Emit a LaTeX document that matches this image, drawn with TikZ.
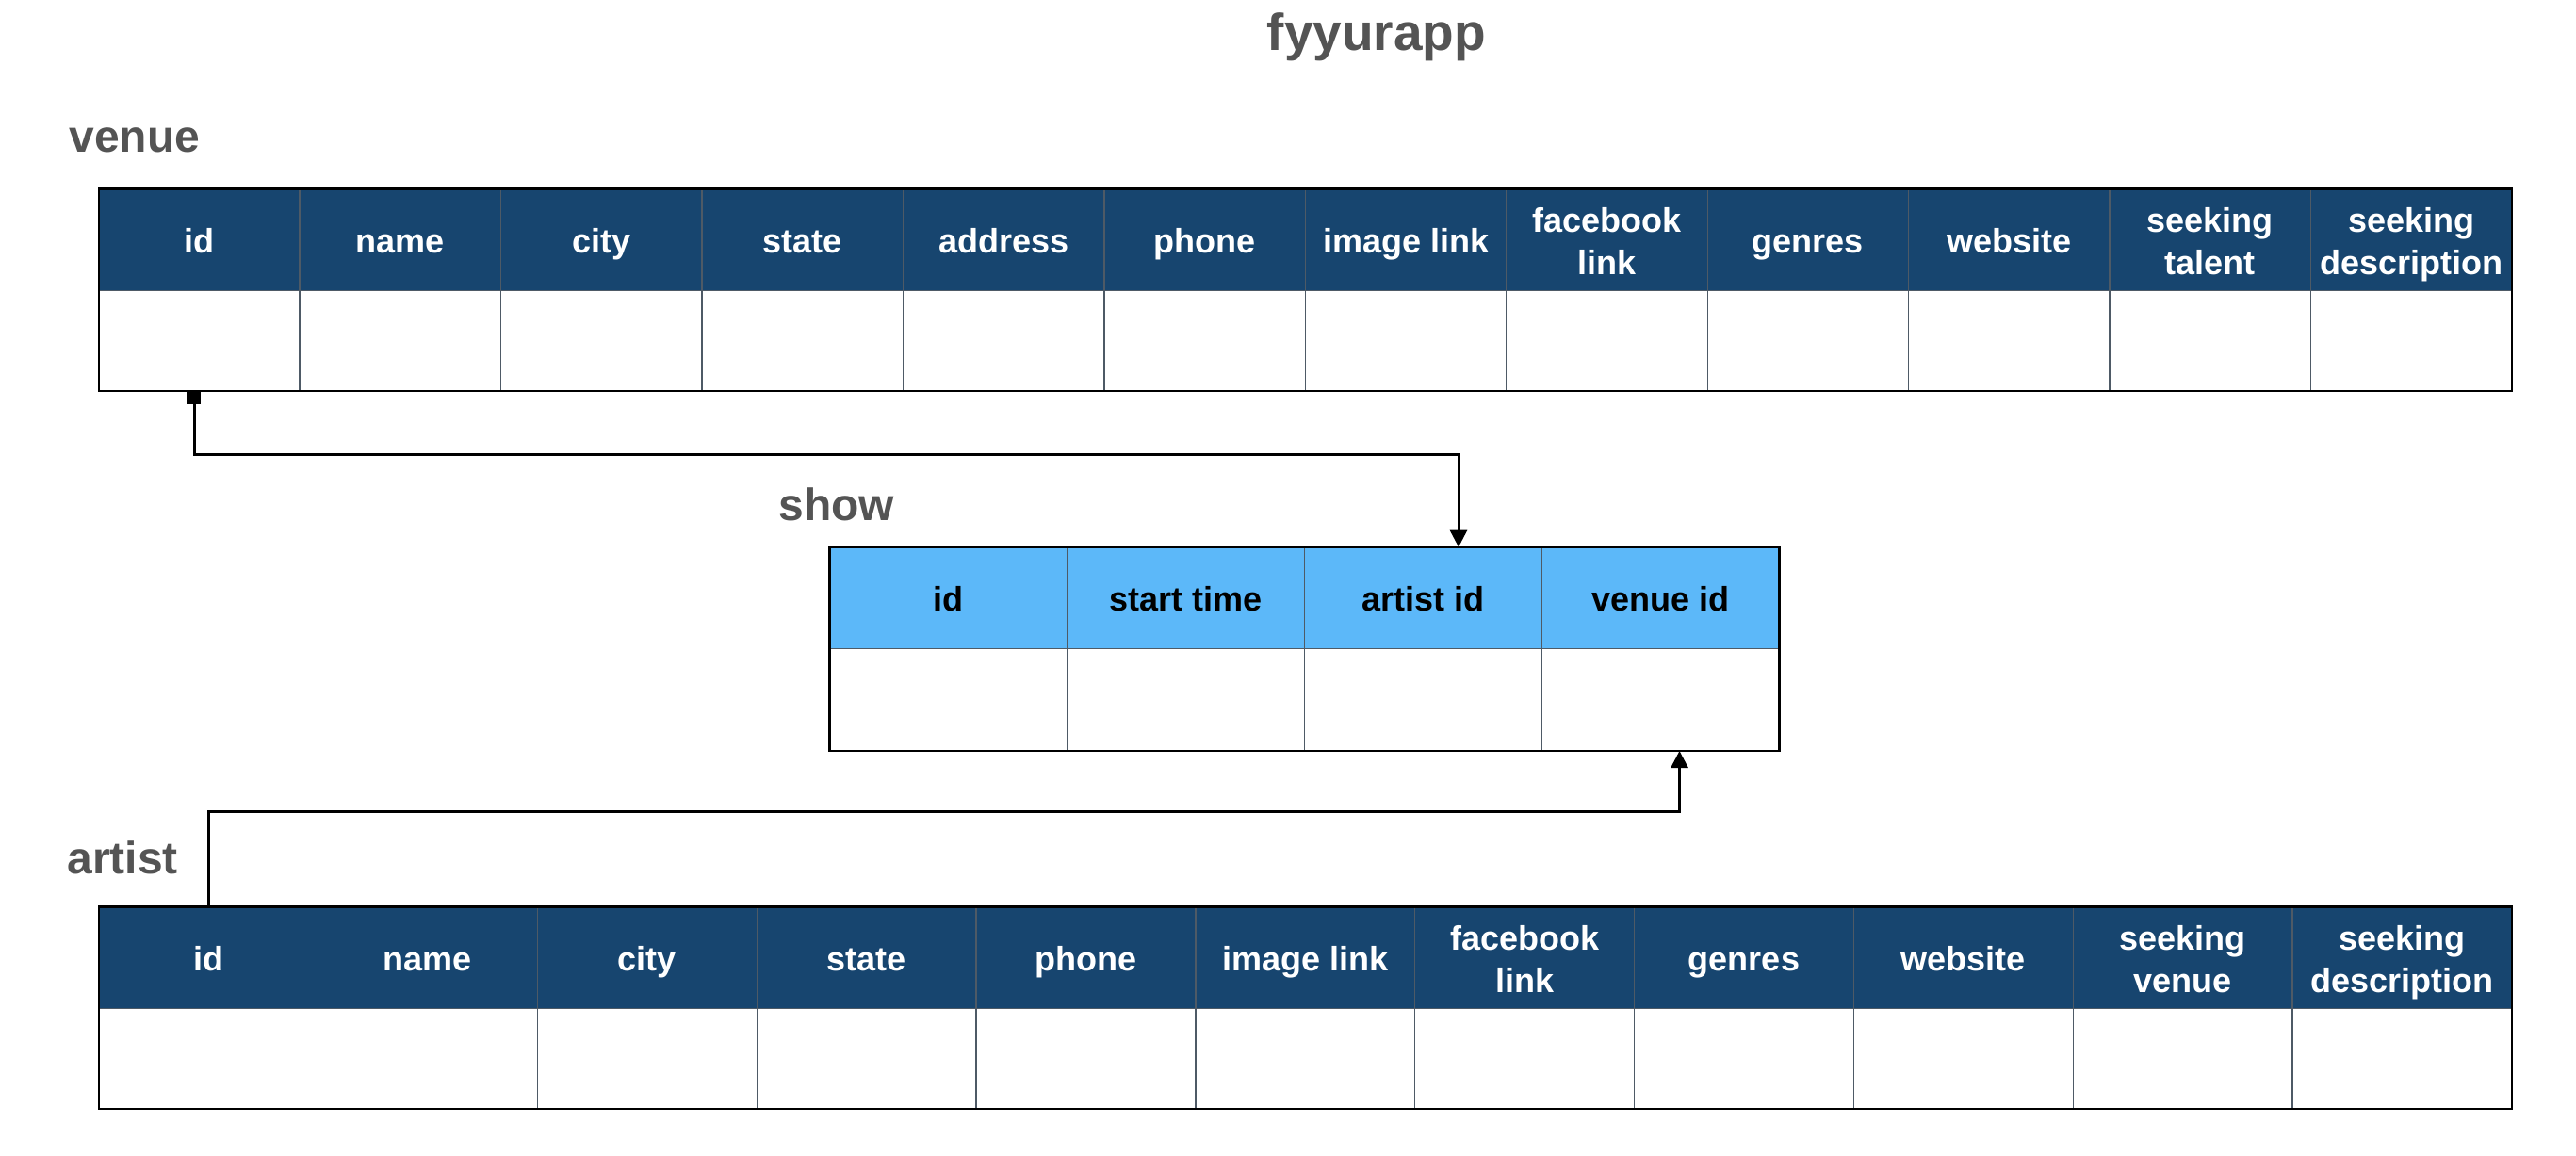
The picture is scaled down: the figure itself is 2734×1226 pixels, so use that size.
\documentclass[tikz,border=0pt]{standalone}
\usepackage{fontspec}
\setmainfont{Liberation Sans}
\usetikzlibrary{arrows.meta,calc}
\definecolor{hdrdark}{HTML}{17456F}
\definecolor{hdrlight}{HTML}{5CB8F9}
\definecolor{cellline}{HTML}{4E5A66}
\definecolor{labelgray}{HTML}{545454}
\tikzset{
  cell/.style={draw=cellline, line width=0.65pt, inner sep=0pt, outer sep=0pt,
    align=center, font=\fontsize{18}{22.5}\selectfont\bfseries, text depth=0pt},
  darkhdr/.style={cell, fill=hdrdark, text=white, minimum height=54pt},
  lighthdr/.style={cell, fill=hdrlight, text=black, minimum height=54pt},
  bodycell/.style={cell, fill=white},
  tableframe/.style={draw=black, line width=1.1pt},
  tablelabel/.style={anchor=base west, text=labelgray, inner sep=0pt,
    font=\fontsize{24}{28}\selectfont\bfseries},
  titlelabel/.style={anchor=base, text=labelgray, inner sep=0pt,
    font=\fontsize{27.5}{33}\selectfont\bfseries},
  link/.style={draw=black, line width=1.5pt},
}
\def\vFB{facebook\\link}
\def\vST{seeking\\talent}
\def\vSD{seeking\\description}
\def\vSV{seeking\\venue}
\begin{document}
\begin{tikzpicture}[x=0.5pt,y=-0.5pt]
\fill[white] (0,0) rectangle (2734,1226);
\useasboundingbox (0,0) rectangle (2734,1226);

% title and labels
\node[titlelabel] (title) at (1461,53) {fyyurapp};
\node[tablelabel] (lvenue) at (73,161) {venue};
\node[tablelabel] (lshow) at (826,552) {show};
\node[tablelabel] (lartist) at (71,927) {artist};

% venue table
\foreach \t/\h [count=\i] in {id/13.8, name/13.8, city/13.8, state/13.8, address/13.8, phone/13.8, image link/13.8, \vFB/36.7, genres/13.8, website/13.8, \vST/36.7, \vSD/36.7}{
  \node[darkhdr, minimum width=106.725pt, text height=\h pt] (v\i) at ({104.6+(\i-0.5)*213.45},254.55) {\t};
  \node[bodycell, minimum width=106.725pt, minimum height=53.2pt] (vb\i) at ({104.6+(\i-0.5)*213.45},361.8) {};
}
\draw[tableframe] (v1.north west) rectangle (vb12.south east);

% show table
\foreach \t [count=\i] in {id, start time, artist id, venue id}{
  \node[lighthdr, minimum width=126pt, text height=13.8pt] (s\i) at ({880.5+(\i-0.5)*252},634.65) {\t};
  \node[bodycell, minimum width=126pt, minimum height=54.15pt] (sb\i) at ({880.5+(\i-0.5)*252},742.85) {};
}
\draw[tableframe] (s1.north west) rectangle (sb4.south east);

% artist table
\foreach \t/\h [count=\i] in {id/13.8, name/13.8, city/13.8, state/13.8, phone/13.8, image link/13.8, \vFB/36.7, genres/13.8, website/13.8, \vSV/36.7, \vSD/36.7}{
  \node[darkhdr, minimum width=116.425pt, text height=\h pt] (a\i) at ({104.6+(\i-0.5)*232.85},1016.55) {\t};
  \node[bodycell, minimum width=116.425pt, minimum height=53.2pt] (ab\i) at ({104.6+(\i-0.5)*232.85},1123.8) {};
}
\draw[tableframe] (a1.north west) rectangle (ab11.south east);

% connectors
\draw[link, {Square[length=7pt,width=7pt]}-{Triangle[length=9pt,width=9pt]}]
  ($(vb1.south)+(-5,0)$) |- ($(s3.north)+(37.5,-98)$) -- ($(s3.north)+(37.5,0)$);
\draw[link, -{Triangle[length=9pt,width=9pt]}]
  (a1.north) |- ($(sb4.south)+(20,64)$) -- ($(sb4.south)+(20,0)$);
\end{tikzpicture}
\end{document}
